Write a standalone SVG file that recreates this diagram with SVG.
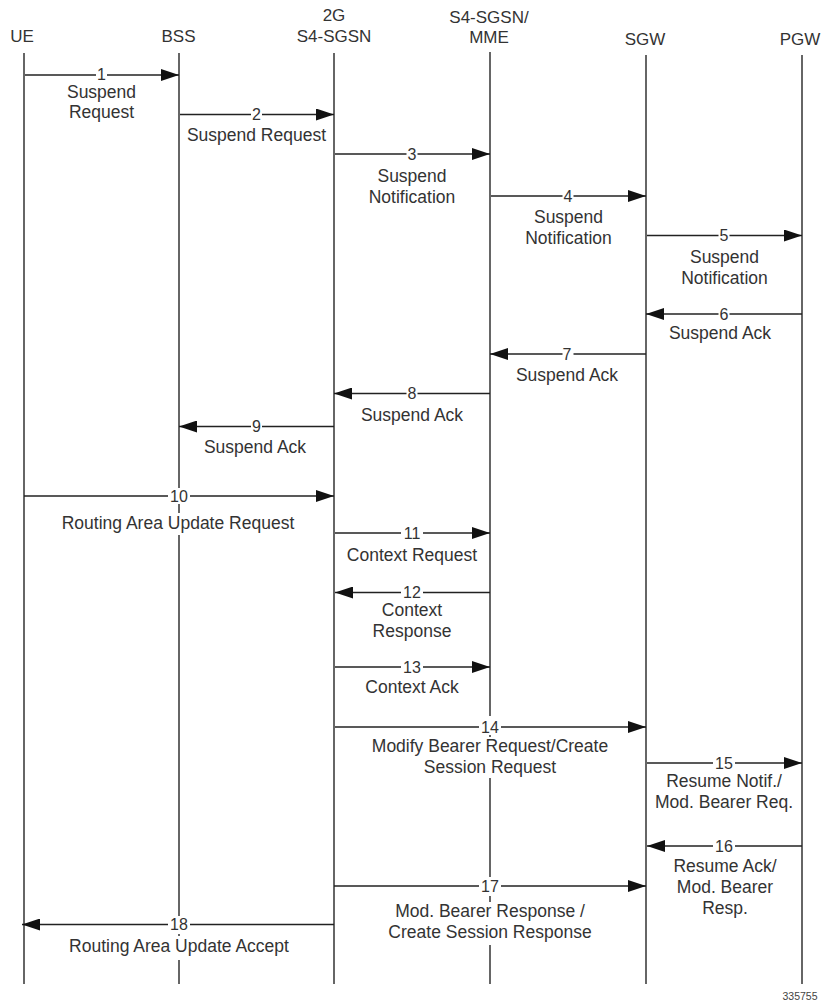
<svg xmlns="http://www.w3.org/2000/svg" width="824" height="1002" viewBox="0 0 824 1002">
<style>
text{font-family:"Liberation Sans",Arial,sans-serif;font-size:17.5px;fill:#333;text-anchor:middle}
.hd{font-size:17px}
.n{font-size:16px}
.ll{stroke:#333;stroke-width:1.5;fill:none}
.msg{stroke:#222;stroke-width:1.4;fill:none;marker-end:url(#ah)}
.bg{fill:#fff;stroke:none}
.id{font-size:10.5px;fill:#444}
</style>
<defs>
<marker id="ah" viewBox="0 0 18 12" refX="18" refY="6" markerWidth="18" markerHeight="12" markerUnits="userSpaceOnUse" orient="auto">
<path d="M0,0 L18,6 L0,12 z" fill="#111"/>
</marker>
</defs>
<rect width="824" height="1002" fill="#fff"/>
<g id="ue"><text class="hd" x="22" y="41.5">UE</text><line class="ll" x1="24" y1="53" x2="24" y2="984"/></g>
<g id="bss"><text class="hd" x="178.5" y="41.5">BSS</text><line class="ll" x1="179" y1="53" x2="179" y2="984"/></g>
<g id="sgsn2g"><text class="hd" x="334" y="21">2G</text><text class="hd" x="334" y="42">S4-SGSN</text><line class="ll" x1="334" y1="53" x2="334" y2="984"/></g>
<g id="mme"><text class="hd" x="489" y="23">S4-SGSN/</text><text class="hd" x="489" y="43">MME</text><line class="ll" x1="490" y1="52" x2="490" y2="984"/></g>
<g id="sgw"><text class="hd" x="645" y="45">SGW</text><line class="ll" x1="646" y1="55" x2="646" y2="984"/></g>
<g id="pgw"><text class="hd" x="800" y="45">PGW</text><line class="ll" x1="802" y1="55" x2="802" y2="984"/></g>
<g id="connectors">
<line class="msg" x1="25" y1="75" x2="179" y2="75"/><rect class="bg" x="96" y="67" width="11" height="16"/><text class="n" x="101.5" y="80">1</text>
<text x="101.5" y="97.5">Suspend</text><text x="101.5" y="118">Request</text>
<line class="msg" x1="180" y1="114.5" x2="334" y2="114.5"/><rect class="bg" x="251" y="106.5" width="11" height="16"/><text class="n" x="256.5" y="120">2</text>
<text x="256.5" y="141">Suspend Request</text>
<line class="msg" x1="335" y1="154" x2="490" y2="154"/><rect class="bg" x="406.5" y="146" width="11" height="16"/><text class="n" x="412" y="159.5">3</text>
<text x="412" y="181.5">Suspend</text><text x="412" y="202.5">Notification</text>
<line class="msg" x1="491" y1="196" x2="646" y2="196"/><rect class="bg" x="562.5" y="188" width="11" height="16"/><text class="n" x="568" y="201.5">4</text>
<text x="568.5" y="222.5">Suspend</text><text x="568.5" y="243.5">Notification</text>
<line class="msg" x1="647" y1="235.5" x2="802" y2="235.5"/><rect class="bg" x="718.5" y="227.5" width="11" height="16"/><text class="n" x="724" y="241">5</text>
<text x="724.5" y="262.5">Suspend</text><text x="724.5" y="283.5">Notification</text>
<line class="msg" x1="802" y1="314" x2="646" y2="314"/><rect class="bg" x="718.5" y="306" width="11" height="16"/><text class="n" x="724" y="319.5">6</text>
<text x="720" y="338.5">Suspend Ack</text>
<line class="msg" x1="646" y1="354" x2="490" y2="354"/><rect class="bg" x="562.5" y="346" width="11" height="16"/><text class="n" x="567" y="359.5">7</text>
<text x="567" y="380.5">Suspend Ack</text>
<line class="msg" x1="490" y1="393.5" x2="334" y2="393.5"/><rect class="bg" x="406.5" y="385.5" width="11" height="16"/><text class="n" x="412" y="399">8</text>
<text x="412" y="420.5">Suspend Ack</text>
<line class="msg" x1="334" y1="426.5" x2="179" y2="426.5"/><rect class="bg" x="251" y="418.5" width="11" height="16"/><text class="n" x="256.5" y="432">9</text>
<text x="255" y="453">Suspend Ack</text>
<line class="msg" x1="24" y1="496" x2="334" y2="496"/><rect class="bg" x="168" y="488" width="22" height="16"/><text class="n" x="179" y="501.5">10</text>
<rect class="bg" x="60" y="513" width="238" height="22"/><text x="178" y="529">Routing Area Update Request</text>
<line class="msg" x1="335" y1="533" x2="490" y2="533"/><rect class="bg" x="401" y="525" width="22" height="16"/><text class="n" x="412" y="538.5">11</text>
<text x="412" y="561">Context Request</text>
<line class="msg" x1="490" y1="592.5" x2="335" y2="592.5"/><rect class="bg" x="401" y="584.5" width="22" height="16"/><text class="n" x="412" y="598">12</text>
<text x="412" y="615.5">Context</text><text x="412" y="636.5">Response</text>
<line class="msg" x1="335" y1="667" x2="490" y2="667"/><rect class="bg" x="401" y="659" width="22" height="16"/><text class="n" x="412" y="672.5">13</text>
<text x="412" y="693.3">Context Ack</text>
<line class="msg" x1="335" y1="727" x2="646" y2="727"/><rect class="bg" x="479" y="716" width="22" height="19"/><text class="n" x="490" y="732.5">14</text>
<rect class="bg" x="368" y="737" width="244" height="41"/><text x="490" y="751.7">Modify Bearer Request/Create</text><text x="490" y="772.7">Session Request</text>
<line class="msg" x1="647" y1="763" x2="802" y2="763"/><rect class="bg" x="713" y="755" width="22" height="16"/><text class="n" x="724" y="768.5">15</text>
<text x="724" y="786.7">Resume Notif./</text><text x="724" y="807.5">Mod. Bearer Req.</text>
<line class="msg" x1="802" y1="846" x2="647" y2="846"/><rect class="bg" x="713" y="838" width="22" height="16"/><text class="n" x="724" y="851.5">16</text>
<text x="725" y="871.5">Resume Ack/</text><text x="725" y="892.5">Mod. Bearer</text><text x="725" y="913.5">Resp.</text>
<line class="msg" x1="334" y1="886" x2="646" y2="886"/><rect class="bg" x="479" y="877" width="22" height="19"/><text class="n" x="490" y="891.5">17</text>
<rect class="bg" x="380" y="902" width="220" height="43"/><text x="490" y="917.3">Mod. Bearer Response /</text><text x="490" y="938.3">Create Session Response</text>
<line class="msg" x1="334" y1="924.5" x2="22" y2="924.5"/><rect class="bg" x="168" y="916" width="22" height="18"/><text class="n" x="179" y="930">18</text>
<rect class="bg" x="64" y="936" width="230" height="24"/><text x="179" y="951.7">Routing Area Update Accept</text>
</g>
<text class="id" x="800" y="1000">335755</text>
</svg>
